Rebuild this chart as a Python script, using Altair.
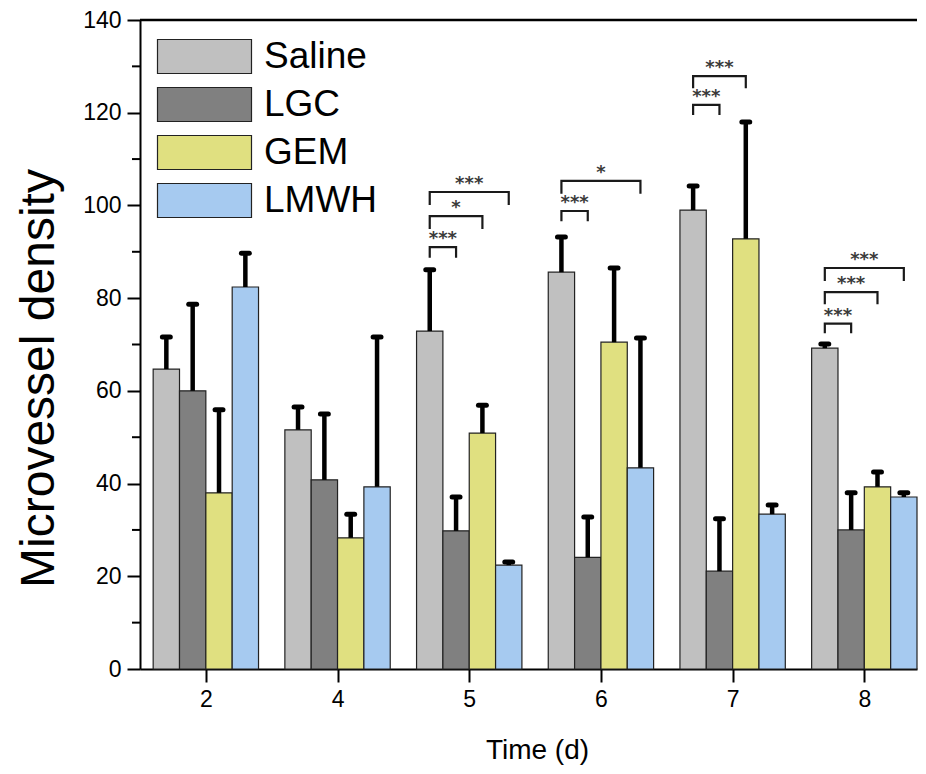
import json
import altair as alt
import pandas as pd

# ---- data ----
days = ["2", "4", "5", "6", "7", "8"]
groups = ["Saline", "LGC", "GEM", "LMWH"]
colors = ["#c0c0c0", "#808080", "#e0e080", "#a6caf0"]

saline_mean = [64.7, 51.6, 72.9, 85.6, 99.0, 69.2]
saline_sd = [6.9, 4.9, 13.2, 7.6, 5.2, 0.9]
lgc_mean = [60.0, 40.8, 29.8, 24.1, 21.1, 30.0]
lgc_sd = [18.7, 14.2, 7.3, 8.7, 11.3, 8.0]
gem_mean = [38.0, 28.3, 50.9, 70.5, 92.8, 39.3]
gem_sd = [17.9, 5.1, 6.0, 16.0, 25.2, 3.2]
lmwh_mean = [82.4, 39.3, 22.4, 43.4, 33.4, 37.1]
lmwh_sd = [7.3, 32.3, 0.7, 28.0, 2.0, 0.9]

# significance brackets: day, group A, group B, top level, leg end, label
sig_day = ["5", "5", "5", "6", "6", "7", "7", "8", "8", "8"]
sig_a = ["Saline"] * 10
sig_b = ["LGC", "GEM", "LMWH", "LGC", "LMWH", "LGC", "GEM", "LGC", "GEM", "LMWH"]
sig_top = [91.0, 97.7, 102.9, 98.8, 105.3, 121.7, 127.9, 74.5, 81.3, 86.5]
sig_leg = [88.7, 94.9, 100.1, 96.6, 102.5, 119.5, 125.3, 72.4, 78.7, 83.7]
sig_label = ["***", "*", "***", "***", "*", "***", "***", "***", "***", "***"]

minor_ticks = [10, 30, 50, 70, 90, 110, 130]
y_ticks = [0, 20, 40, 60, 80, 100, 120, 140]

# ---- build tables ----
bar_w = 0.2
offset = {g: (i - 1.5) * bar_w for i, g in enumerate(groups)}
means = dict(zip(groups, [saline_mean, lgc_mean, gem_mean, lmwh_mean]))
sds = dict(zip(groups, [saline_sd, lgc_sd, gem_sd, lmwh_sd]))

rows = []
for g in groups:
    for di, d in enumerate(days):
        pos = di + offset[g]
        m = means[g][di]
        rows.append(dict(group=g, day=d, pos=pos, lo=pos - bar_w / 2, hi=pos + bar_w / 2,
                         mean=m, top=m + sds[g][di], cap_lo=pos - 0.03, cap_hi=pos + 0.03))
df = pd.DataFrame(rows)

brows, trows = [], []
for k in range(len(sig_day)):
    di = days.index(sig_day[k])
    xa = di + offset[sig_a[k]]
    xb = di + offset[sig_b[k]]
    pts = [(xa, sig_leg[k]), (xa, sig_top[k]), (xb, sig_top[k]), (xb, sig_leg[k])]
    for s, (x, y) in enumerate(pts):
        brows.append(dict(bid=k, seq=s, x=x, y=y))
    trows.append(dict(x=(xa + xb) / 2, y=sig_top[k], label=sig_label[k]))
bdf = pd.DataFrame(brows)
tdf = pd.DataFrame(trows)

FONT = "Liberation Sans"

xscale = alt.Scale(domain=[-0.5, 5.4], nice=False, zero=False)
yscale = alt.Scale(domain=[0, 140], nice=False)

x_axis = alt.Axis(values=list(range(len(days))), labelExpr=f"{json.dumps(days)}[datum.value]",
                  title="Time (d)", titleFontSize=28, labelPadding=6,
                  labelFontSize=23, titleX=397, titleY=89, titleBaseline="alphabetic")
y_axis = alt.Axis(values=y_ticks, title="Microvessel density", titleFontSize=48,
                  labelPadding=6, labelFontSize=23, titleX=-87, titleY=358,
                  titleBaseline="alphabetic", titleAngle=270, titleAlign="center")

base = alt.Chart(df)

bars = base.mark_bar(stroke="#222222", strokeWidth=1.2, opacity=1).encode(
    x=alt.X("lo:Q", scale=xscale, axis=x_axis),
    x2="hi:Q",
    y=alt.Y("mean:Q", scale=yscale, axis=y_axis),
    y2=alt.datum(0),
    color=alt.Color("group:N", scale=alt.Scale(domain=groups, range=colors),
                    sort=groups,
                    legend=alt.Legend(
                        title=None, orient="none", legendX=40, legendY=12,
                        symbolType="M-2,-0.7234H2V0.7234H-2Z", symbolSize=2209,
                        symbolStrokeColor="#222222", symbolStrokeWidth=1.2,
                        symbolOpacity=1, labelFontSize=37, labelFont=FONT,
                        labelColor="black", labelOffset=35, rowPadding=4,
                        labelLimit=400)),
)

err = base.mark_rule(color="black", strokeWidth=4.5).encode(
    x="pos:Q", y="mean:Q", y2="top:Q")

caps = base.mark_rule(color="black", strokeWidth=5, strokeCap="round").encode(
    x="cap_lo:Q", x2="cap_hi:Q", y="top:Q")

brackets = alt.Chart(bdf).mark_line(color="#1a1a1a", strokeWidth=2.2).encode(
    x="x:Q", y="y:Q", detail="bid:N", order="seq:Q")

stars = alt.Chart(tdf).mark_text(font="DejaVu Sans", fontSize=18, fontWeight="bold",
                                 color="#3a3a3a", baseline="middle", dy=-8).encode(
    x="x:Q", y="y:Q", text="label:N")

top_line = alt.Chart(pd.DataFrame({"y": [140]})).mark_rule(
    color="black", strokeWidth=2.5).encode(y="y:Q")

minor = alt.Chart(pd.DataFrame({"y": minor_ticks})).mark_rule(
    color="black", strokeWidth=2).encode(
    y="y:Q", x=alt.value(-8), x2=alt.value(0))

chart = alt.layer(bars, err, caps, brackets, stars, top_line, minor).properties(
    width=777, height=649,
    autosize=alt.AutoSizeParams(type="none"),
    padding={"left": 132, "top": 12, "right": 1, "bottom": 97},
    background="white",
).configure_view(stroke=None).configure_axis(
    grid=False, domainColor="black", domainWidth=2, tickColor="black",
    tickWidth=2, tickSize=13, labelFont=FONT, titleFont=FONT, labelColor="black",
    titleColor="black", titleFontWeight="normal",
)

chart.save("out.html", embed_options={"renderer": "svg", "actions": False})
